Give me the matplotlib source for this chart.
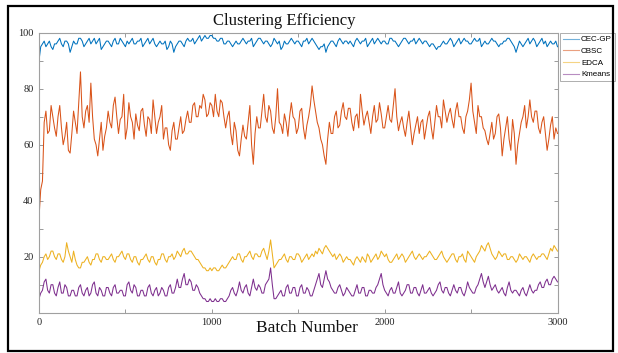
import numpy as np
import matplotlib
matplotlib.use("Agg")
import matplotlib.pyplot as plt
from matplotlib.patches import Rectangle

# ---------------- data (one value every 10 batches) ----------------
batch_step = 10
series_names = ["CEC-GP", "CBSC", "EDCA", "Kmeans"]
x_ticks = [0, 500, 1000, 1500, 2000, 2500, 3000]
x_tick_labels = ["0", "", "1000", "", "2000", "", "3000"]
y_ticks = [0, 10, 20, 30, 40, 50, 60, 70, 80, 90, 100]
y_tick_labels = ["", "", "20", "", "40", "", "60", "", "80", "", "100"]

cec_gp = [90, 95, 96, 97, 95, 96, 97, 95, 94, 96, 96, 97, 98, 96, 95, 97, 97, 96, 93, 95,
          97, 96, 96, 98, 98, 97, 95, 96, 97, 98, 96, 97, 98, 96, 97, 98, 94, 95, 96, 97,
          97, 96, 95, 97, 98, 96, 96, 98, 97, 96, 95, 97, 96, 97, 98, 96, 96, 97, 97, 98,
          95, 96, 97, 98, 96, 97, 98, 96, 95, 96, 97, 96, 96, 97, 94, 95, 97, 96, 93, 95,
          96, 97, 97, 96, 95, 97, 98, 97, 97, 98, 96, 97, 98, 99, 97, 98, 99, 98, 98, 99,
          99, 98, 98, 97, 97, 98, 98, 96, 96, 97, 97, 96, 95, 96, 97, 96, 96, 97, 98, 97,
          96, 97, 97, 98, 95, 96, 97, 98, 98, 97, 96, 97, 97, 96, 95, 96, 98, 97, 96, 97,
          94, 95, 97, 96, 96, 97, 98, 97, 96, 97, 97, 96, 95, 97, 97, 98, 96, 97, 98, 97,
          96, 95, 94, 95, 95, 96, 93, 95, 96, 97, 97, 96, 95, 97, 98, 97, 96, 97, 97, 96,
          97, 96, 95, 97, 98, 97, 96, 97, 97, 98, 95, 96, 97, 98, 96, 97, 98, 97, 96, 97,
          97, 96, 96, 98, 98, 97, 97, 96, 95, 96, 97, 98, 98, 97, 96, 97, 97, 98, 96, 97,
          98, 97, 96, 97, 97, 96, 95, 96, 96, 95, 94, 95, 95, 96, 97, 96, 96, 97, 98, 97,
          95, 96, 97, 98, 96, 97, 98, 97, 97, 96, 96, 97, 98, 97, 97, 98, 95, 96, 97, 96,
          96, 97, 98, 97, 97, 96, 95, 96, 96, 97, 97, 98, 98, 97, 96, 95, 93, 95, 97, 96,
          95, 96, 97, 98, 96, 97, 98, 97, 95, 96, 97, 98, 96, 97, 95, 96, 97, 96, 96, 97,
          95]

cbsc = [34, 44, 47, 68, 72, 64, 65, 74, 70, 66, 63, 70, 74, 66, 60, 63, 68, 58, 57, 64,
        72, 68, 64, 75, 86, 70, 66, 72, 74, 68, 82, 70, 62, 60, 56, 62, 68, 58, 63, 66,
        72, 68, 66, 74, 77, 70, 64, 69, 70, 78, 62, 66, 75, 70, 68, 62, 71, 67, 65, 72,
        73, 67, 63, 70, 69, 64, 76, 70, 64, 68, 70, 74, 62, 66, 66, 60, 58, 65, 68, 62,
        62, 66, 70, 64, 65, 69, 72, 68, 68, 74, 75, 70, 70, 74, 73, 78, 76, 70, 71, 75,
        74, 70, 78, 72, 70, 76, 75, 70, 66, 70, 72, 64, 60, 68, 65, 58, 56, 62, 67, 63,
        62, 68, 74, 60, 53, 64, 70, 66, 66, 72, 78, 70, 68, 74, 72, 66, 64, 70, 80, 68,
        67, 64, 71, 68, 63, 70, 75, 70, 69, 64, 66, 72, 73, 66, 62, 67, 70, 74, 81, 76,
        72, 68, 66, 62, 60, 56, 53, 62, 68, 64, 64, 70, 72, 66, 67, 72, 75, 70, 69, 73,
        73, 68, 65, 70, 71, 66, 78, 72, 67, 70, 72, 68, 64, 70, 74, 68, 69, 75, 71, 66,
        66, 70, 74, 69, 68, 74, 80, 70, 65, 68, 70, 66, 63, 68, 72, 66, 60, 64, 67, 70,
        64, 68, 69, 62, 66, 70, 72, 66, 62, 68, 74, 70, 70, 66, 76, 72, 68, 71, 73, 69,
        66, 72, 75, 70, 70, 66, 64, 70, 72, 76, 82, 72, 68, 64, 74, 70, 70, 66, 65, 62,
        60, 64, 68, 62, 64, 70, 71, 66, 56, 62, 66, 70, 62, 58, 69, 64, 53, 60, 64, 68,
        70, 74, 66, 70, 76, 70, 68, 72, 72, 66, 64, 68, 70, 64, 58, 62, 67, 70, 62, 66,
        64]

edca = [15, 17, 18, 20, 21, 19, 20, 22, 22, 20, 19, 21, 21, 19, 18, 20, 25, 22, 20, 18,
        22, 19, 17, 16, 16, 18, 18, 19, 20, 18, 17, 19, 19, 21, 21, 19, 18, 20, 20, 19,
        19, 20, 21, 19, 18, 20, 20, 21, 22, 20, 19, 21, 21, 19, 18, 20, 20, 18, 17, 19,
        19, 20, 21, 19, 18, 20, 20, 18, 17, 19, 19, 21, 21, 19, 18, 20, 20, 21, 19, 20,
        22, 21, 20, 22, 23, 21, 21, 22, 22, 21, 20, 19, 19, 18, 17, 16, 16, 15, 15, 16,
        15, 16, 16, 15, 15, 16, 17, 16, 16, 17, 18, 19, 20, 19, 19, 21, 21, 19, 18, 20,
        20, 21, 22, 20, 19, 21, 21, 20, 20, 22, 23, 21, 19, 22, 26, 21, 16, 17, 18, 19,
        19, 20, 21, 19, 18, 20, 20, 19, 19, 21, 21, 20, 18, 19, 20, 21, 19, 20, 21, 20,
        22, 21, 23, 22, 21, 23, 24, 23, 22, 21, 20, 21, 19, 20, 21, 20, 18, 19, 20, 19,
        19, 18, 17, 19, 20, 19, 18, 20, 19, 18, 21, 20, 18, 19, 20, 21, 19, 20, 22, 21,
        20, 21, 19, 18, 18, 19, 20, 21, 19, 20, 21, 20, 18, 19, 20, 21, 22, 20, 19, 20,
        21, 20, 19, 20, 20, 21, 22, 21, 20, 19, 19, 20, 21, 22, 20, 19, 18, 19, 20, 21,
        21, 19, 18, 20, 20, 21, 19, 18, 22, 21, 20, 19, 18, 20, 21, 22, 24, 23, 22, 24,
        25, 23, 21, 20, 19, 20, 22, 21, 20, 21, 21, 19, 19, 20, 20, 19, 18, 19, 21, 20,
        19, 20, 20, 19, 18, 20, 21, 20, 19, 20, 20, 21, 21, 20, 19, 21, 23, 22, 24, 23,
        22]

kmeans = [5, 7, 8, 11, 12, 8, 7, 10, 10, 7, 6, 9, 11, 7, 7, 10, 9, 6, 6, 8,
          8, 6, 6, 9, 10, 7, 6, 8, 9, 6, 7, 10, 11, 7, 6, 9, 8, 6, 6, 9,
          9, 7, 6, 9, 10, 7, 7, 8, 8, 6, 6, 10, 11, 8, 7, 10, 9, 6, 6, 8,
          8, 6, 6, 9, 10, 7, 6, 8, 9, 6, 7, 9, 8, 6, 6, 9, 10, 7, 7, 9,
          12, 9, 9, 12, 14, 10, 10, 12, 11, 8, 8, 10, 9, 7, 6, 5, 5, 4, 4, 5,
          4, 4, 5, 4, 4, 5, 5, 4, 4, 5, 6, 8, 9, 7, 6, 8, 11, 8, 7, 9,
          10, 7, 6, 9, 12, 9, 8, 10, 9, 7, 7, 10, 11, 12, 16, 10, 5, 5, 6, 7,
          8, 6, 6, 9, 10, 7, 7, 9, 9, 6, 6, 9, 10, 7, 7, 9, 8, 6, 6, 8,
          10, 12, 14, 10, 9, 12, 15, 12, 11, 9, 8, 7, 7, 9, 10, 8, 6, 7, 9, 8,
          7, 6, 6, 8, 10, 7, 7, 9, 9, 6, 6, 8, 8, 7, 7, 9, 10, 12, 14, 10,
          8, 7, 6, 8, 9, 7, 7, 9, 11, 7, 6, 7, 8, 10, 10, 7, 7, 9, 9, 7,
          6, 8, 10, 7, 7, 8, 9, 7, 6, 7, 8, 10, 11, 8, 7, 9, 9, 7, 6, 8,
          10, 8, 7, 9, 9, 7, 6, 8, 11, 9, 8, 7, 7, 9, 10, 12, 14, 11, 9, 11,
          13, 10, 8, 9, 10, 8, 7, 8, 9, 7, 6, 9, 11, 8, 7, 8, 8, 7, 6, 8,
          9, 7, 6, 8, 10, 8, 7, 8, 8, 10, 11, 9, 9, 11, 12, 10, 10, 12, 13, 12,
          11]

colors = ["#0072BD", "#D95319", "#EDB120", "#7E2F8E"]

# ---------------- figure ----------------
W, H = 618, 353
fig = plt.figure(figsize=(W / 100, H / 100), dpi=100)
fig.patch.set_facecolor("white")

ax_l, ax_r, ax_t, ax_b = 39, 557.5, 32.7, 312.7
ax = fig.add_axes([ax_l / W, 1 - ax_b / H, (ax_r - ax_l) / W, (ax_b - ax_t) / H])

serif = ["Liberation Serif", "DejaVu Serif"]
sans = ["Liberation Sans", "DejaVu Sans"]

all_series = [cec_gp, cbsc, edca, kmeans]
for name, vals, c in zip(series_names, all_series, colors):
    xs = np.arange(len(vals)) * batch_step
    ax.plot(xs, vals, color=c, lw=0.75, label=name)

ax.set_xlim(0, 3000)
ax.set_ylim(0, 100)
ax.set_xticks(x_ticks)
ax.set_xticklabels(x_tick_labels, fontfamily=serif, fontsize=7.5, color="#222222")
ax.set_yticks(y_ticks)
ax.set_yticklabels(y_tick_labels, fontfamily=serif, fontsize=7.5, color="#222222")
ax.tick_params(direction="in", length=3, width=0.6, color="#8a8a8a",
               top=True, right=True, pad=4)
for s in ax.spines.values():
    s.set_color("#a0a0a0")
    s.set_linewidth(0.8)

ax.set_xlabel("Batch Number", fontfamily=serif, fontsize=12.5, color="#111111")
ax.xaxis.set_label_coords(0.517, -0.055)
ax.xaxis.label.set_va("center")

fig.text(284 / W, 1 - 21 / H, "Clustering Efficiency", fontfamily=serif,
         fontsize=12, ha="center", va="center", color="#111111")

leg = ax.legend(loc="upper left", bbox_to_anchor=(560 / W, 1 - 33 / H),
                bbox_transform=fig.transFigure, prop={"family": sans, "size": 5.8},
                frameon=True, fancybox=False, borderpad=0.35, labelspacing=0.5,
                handlelength=2.0, handletextpad=0.25, borderaxespad=0)
leg.get_frame().set_edgecolor("#999999")
leg.get_frame().set_linewidth(0.7)
for h in leg.get_lines():
    h.set_alpha(0.55)
    h.set_linewidth(0.8)

# outer black border
fig.add_artist(Rectangle((7.5 / W, 1 - 351 / H), (613 - 7.5) / W, (351 - 6) / H,
                         transform=fig.transFigure, fill=False, edgecolor="black",
                         linewidth=1.6))

fig.savefig("out.png", dpi=100)
